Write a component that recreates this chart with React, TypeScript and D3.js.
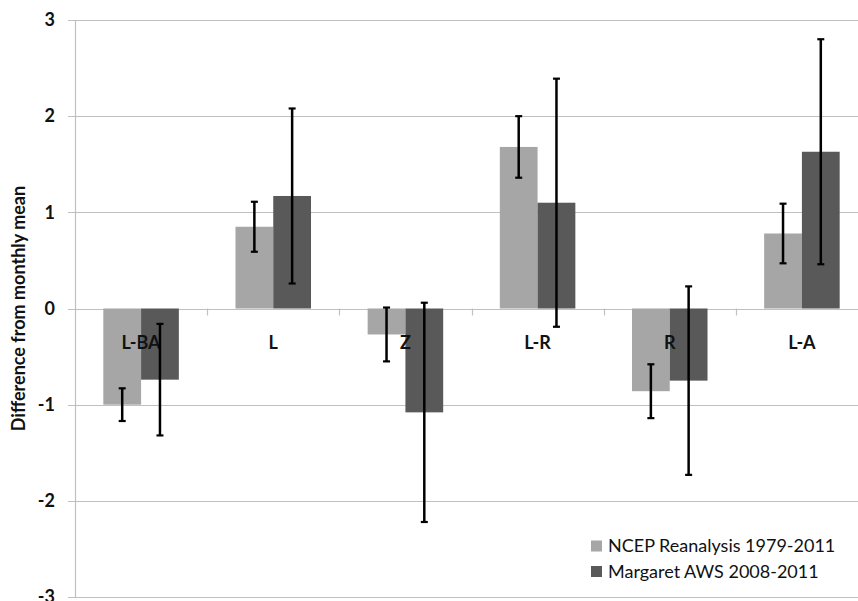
import React, { useEffect, useRef } from "react";
import * as d3 from "d3";

const categories = ["L-BA", "L", "Z", "L-R", "R", "L-A"];
const seriesNames = ["NCEP Reanalysis 1979-2011", "Margaret AWS 2008-2011"];
const ncepValues = [-1.0, 0.85, -0.27, 1.68, -0.86, 0.78];
const ncepErrors = [0.17, 0.26, 0.28, 0.32, 0.28, 0.31];
const awsValues = [-0.74, 1.17, -1.08, 1.1, -0.75, 1.63];
const awsErrors = [0.58, 0.91, 1.14, 1.29, 0.98, 1.17];
const yTicks = [-3, -2, -1, 0, 1, 2, 3];
const colors = ["#a6a6a6", "#595959"];

const App = () => {
  const chartEl = useRef<SVGSVGElement>(null);

  useEffect(() => {
    const width = 858,
      height = 601;
    const margin = { top: 20, right: -10, bottom: 4, left: 75 };
    const font = "Lato, 'Open Sans', sans-serif";

    const svg = d3.select(chartEl.current);
    svg.selectAll("*").remove();

    const values = [ncepValues, awsValues];
    const errors = [ncepErrors, awsErrors];

    const x0 = d3
      .scaleBand()
      .domain(categories)
      .range([margin.left, width - margin.right]);
    const x1 = d3
      .scaleBand()
      .domain(seriesNames)
      .range([0, x0.bandwidth()])
      .paddingOuter(0.75);
    const y = d3
      .scaleLinear()
      .domain([-3, 3])
      .range([height - margin.bottom, margin.top]);

    // gridlines + left ticks
    svg
      .append("g")
      .selectAll("line")
      .data(yTicks)
      .enter()
      .append("line")
      .attr("x1", margin.left - 7)
      .attr("x2", width)
      .attr("y1", (d) => Math.round(y(d)) + 0.5)
      .attr("y2", (d) => Math.round(y(d)) + 0.5)
      .attr("stroke", "#c0c0c0")
      .attr("stroke-width", 1.2);

    // y axis line
    svg
      .append("line")
      .attr("x1", margin.left + 0.5)
      .attr("x2", margin.left + 0.5)
      .attr("y1", y(3))
      .attr("y2", y(-3))
      .attr("stroke", "#c0c0c0")
      .attr("stroke-width", 1.2);

    // y tick labels
    svg
      .append("g")
      .selectAll("text")
      .data(yTicks)
      .enter()
      .append("text")
      .attr("x", 55)
      .attr("y", (d) => y(d))
      .attr("dy", "0.35em")
      .attr("text-anchor", "end")
      .attr("font-family", font)
      .attr("font-weight", "bold")
      .attr("font-size", 18)
      .attr("fill", "#111")
      .text((d) => d);

    // y title
    svg
      .append("text")
      .attr("transform", `translate(19,${(y(3) + y(-3)) / 2}) rotate(-90)`)
      .attr("dy", "0.35em")
      .attr("text-anchor", "middle")
      .attr("font-family", font)
      .attr("font-weight", "bold")
      .attr("font-size", 18)
      .attr("fill", "#111")
      .text("Difference from monthly mean");

    // bars
    seriesNames.forEach((s, si) => {
      svg
        .append("g")
        .selectAll("rect")
        .data(categories)
        .enter()
        .append("rect")
        .attr("x", (c) => x0(c)! + x1(s)!)
        .attr("width", x1.bandwidth())
        .attr("y", (c, i) => Math.min(y(values[si][i]), y(0)))
        .attr("height", (c, i) => Math.abs(y(values[si][i]) - y(0)))
        .attr("fill", colors[si]);
    });

    // category axis at zero
    svg
      .append("g")
      .selectAll("line")
      .data(categories.slice(1))
      .enter()
      .append("line")
      .attr("x1", (c) => Math.round(x0(c)!) + 0.5)
      .attr("x2", (c) => Math.round(x0(c)!) + 0.5)
      .attr("y1", y(0))
      .attr("y2", y(0) + 7)
      .attr("stroke", "#c0c0c0")
      .attr("stroke-width", 1.2);

    svg
      .append("g")
      .selectAll("text")
      .data(categories)
      .enter()
      .append("text")
      .attr("x", (c) => x0(c)! + x0.bandwidth() / 2)
      .attr("y", y(0) + 34)
      .attr("dy", "0.35em")
      .attr("text-anchor", "middle")
      .attr("font-family", font)
      .attr("font-weight", "bold")
      .attr("font-size", 18)
      .attr("fill", "#111")
      .text((c) => c);

    // error bars
    seriesNames.forEach((s, si) => {
      const g = svg.append("g").attr("stroke", "#000");
      categories.forEach((c, i) => {
        const cx = x0(c)! + x1(s)! + x1.bandwidth() / 2;
        const hi = y(values[si][i] + errors[si][i]);
        const lo = y(values[si][i] - errors[si][i]);
        g.append("line")
          .attr("x1", cx)
          .attr("x2", cx)
          .attr("y1", hi)
          .attr("y2", lo)
          .attr("stroke-width", 2.5);
        [hi, lo].forEach((yy) => {
          g.append("line")
            .attr("x1", cx - 3.5)
            .attr("x2", cx + 3.5)
            .attr("y1", yy)
            .attr("y2", yy)
            .attr("stroke-width", 2.2);
        });
      });
    });

    // legend
    const legend = svg
      .append("g")
      .selectAll("g")
      .data(seriesNames)
      .enter()
      .append("g")
      .attr("transform", (d, i) => `translate(591,${546 + i * 25.5})`);
    legend
      .append("rect")
      .attr("x", 0)
      .attr("y", -5.5)
      .attr("width", 11)
      .attr("height", 11)
      .attr("fill", (d, i) => colors[i]);
    legend
      .append("text")
      .attr("x", 17)
      .attr("dy", "0.35em")
      .attr("font-family", font)
      .attr("font-size", 18)
      .attr("fill", "#111")
      .text((d) => d);
  }, [chartEl]);

  return (
    <svg
      ref={chartEl}
      width={858}
      height={601}
      style={{ position: "absolute", left: 0, top: 0, background: "#fff" }}
    ></svg>
  );
};

export default App;
